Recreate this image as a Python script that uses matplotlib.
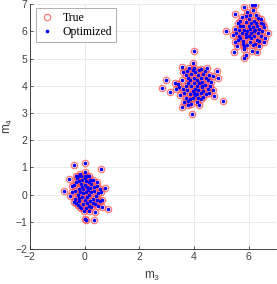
import matplotlib
matplotlib.use("Agg")
import matplotlib.pyplot as plt

# cluster around (0, 0)
c1_x = [0.01, -0.39, 0.59, -0.58, -0.76, -0.54, -0.47, 0.74, 0.86, 0.65, 0.39, 0.16, 0.06, 0.34, 0.03,
        -0.39, -0.25, -0.12, -0.33, -0.25, -0.12, 0.0, 0.1, 0.18,
        -0.3, -0.2, -0.1, 0.05, 0.15, 0.25, 0.35, 0.45, 0.55, 0.6, 0.5, 0.4, 0.3, 0.45, 0.55, 0.65, 0.2,
        0.1, 0.0, -0.1, -0.2, -0.3, -0.35, -0.25, -0.15, -0.05, 0.05, 0.15, 0.25, 0.35, 0.1, 0.0, -0.1,
        -0.2, -0.35, -0.4, -0.28, 0.02, 0.2, 0.3, 0.15, -0.05, -0.15, 0.05, 0.25, -0.45, 0.45, 0.3,
        -0.05, 0.08, -0.12, 0.2, 0.38, 0.5, -0.22, 0.12, -0.02, 0.02, -0.18]
c1_y = [1.16, 1.09, 0.96, 0.58, 0.13, -0.06, 0.33, 0.26, -0.53, -0.44, -0.63, -0.6, -0.94, -0.94, -0.9,
        -0.28, -0.38, -0.48, 0.68, 0.68, 0.7, 0.68, 0.68, 0.68,
        0.45, 0.5, 0.55, 0.52, 0.45, 0.4, 0.3, 0.32, 0.2, 0.1, 0.05, -0.05, -0.15, -0.2, -0.25, -0.2, -0.25,
        -0.3, -0.2, -0.1, -0.25, -0.3, -0.15, 0.0, 0.1, 0.2, 0.1, 0.0, 0.1, 0.15, 0.3, 0.35, 0.3,
        0.2, 0.15, 0.35, 0.6, 0.6, 0.55, -0.3, -0.4, -0.35, -0.45, -0.5, -0.45, 0.1, 0.45, 0.55,
        0.05, -0.08, 0.4, 0.25, -0.35, -0.4, -0.12, 0.18, -0.6, 0.82, 0.75]

# cluster around (4, 4)
c2_x = [4.01, 3.98, 3.55, 3.83, 3.99, 4.26, 4.48, 4.85, 4.87, 2.97, 2.85, 3.12, 3.34, 3.42, 3.49, 3.56,
        3.77, 3.80, 3.93, 4.72, 4.69, 5.08, 4.63,
        3.7, 3.8, 3.9, 4.05, 4.15, 4.25, 4.35, 4.45, 4.55, 4.6, 4.5, 4.4, 4.3, 4.2, 4.1, 4.0, 3.9, 3.8,
        3.7, 3.6, 3.65, 3.75, 3.85, 3.95, 4.05, 4.15, 4.25, 4.35, 4.45, 4.55, 4.05, 3.95, 4.15, 4.25,
        4.1, 4.2, 3.9, 3.7, 3.55, 3.6, 4.0, 4.3, 4.1, 3.85, 4.4, 4.7, 3.45, 3.3, 4.0, 4.35, 3.85, 3.65,
        4.5, 4.2, 3.95, 4.12, 4.28, 3.75]
c2_y = [5.30, 4.85, 4.69, 4.66, 4.66, 4.62, 4.65, 4.53, 4.29, 4.2, 3.93, 3.79, 3.89, 4.07, 3.67, 3.24,
        3.28, 3.44, 2.95, 3.61, 3.85, 3.46, 4.16,
        4.4, 4.3, 4.45, 4.5, 4.4, 4.3, 4.45, 4.3, 4.4, 4.0, 3.9, 4.05, 3.95, 4.1, 4.2, 4.1, 4.0, 4.1,
        4.0, 3.9, 3.75, 3.85, 3.7, 3.8, 3.9, 3.85, 3.75, 3.8, 3.7, 3.75, 3.65, 3.55, 3.55, 3.5,
        3.4, 3.3, 3.35, 3.55, 4.2, 4.5, 4.3, 4.15, 4.0, 4.2, 4.55, 4.35, 3.95, 4.1, 3.75, 3.6, 3.5, 3.4,
        4.2, 4.6, 4.6, 3.7, 4.0, 4.55]

# cluster around (6, 6)
c3_x = [5.82, 6.13, 6.22, 5.49, 5.91, 6.26, 6.44, 6.53, 5.18, 5.42, 5.49, 6.71, 5.46, 5.85, 5.91, 5.83,
        6.13, 6.32,
        5.6, 5.7, 5.8, 5.9, 6.0, 6.1, 6.2, 6.3, 6.4, 6.5, 6.45, 6.35, 6.25, 6.15, 6.05, 5.95, 5.85, 5.75,
        5.65, 5.55, 5.6, 5.7, 5.8, 5.9, 6.0, 6.1, 6.2, 6.3, 6.4, 6.05, 5.95, 6.15, 5.85, 6.25, 5.75,
        6.05, 6.35, 6.55, 6.6, 5.5, 5.65, 6.0, 6.2, 5.9, 6.1, 5.78, 6.45, 5.95, 6.15, 6.4, 5.58, 6.28,
        5.7, 6.55]
c3_y = [6.91, 6.97, 6.98, 6.64, 6.58, 6.60, 6.44, 6.29, 6.02, 5.87, 5.62, 5.93, 5.23, 5.34, 5.13, 5.01,
        5.28, 5.25,
        6.3, 6.4, 6.2, 6.35, 6.45, 6.3, 6.4, 6.2, 6.1, 6.0, 5.85, 5.95, 6.05, 6.15, 6.1, 6.0, 6.05, 5.95,
        5.85, 5.95, 5.7, 5.75, 5.65, 5.8, 5.85, 5.75, 5.85, 5.7, 5.65, 5.6, 5.5, 5.5, 5.45, 5.55, 6.55,
        6.6, 6.5, 6.15, 5.75, 6.1, 6.05, 6.2, 6.0, 5.9, 5.95, 5.55, 6.3, 6.7, 6.8, 5.45, 5.45, 6.32,
        6.2, 5.6]

true_x = c1_x + c2_x + c3_x
true_y = c1_y + c2_y + c3_y
# optimized values sit on top of the true ones
opt_x = list(true_x)
opt_y = list(true_y)

plt.rcParams['font.family'] = ['Liberation Sans', 'DejaVu Sans']
plt.rcParams['mathtext.fontset'] = 'custom'
plt.rcParams['mathtext.rm'] = 'Liberation Sans'
plt.rcParams['mathtext.it'] = 'Liberation Sans'

fig = plt.figure(figsize=(2.77, 2.84), dpi=100)
ax = fig.add_axes([0.108, 0.123, 0.888, 0.862])

ax.plot(true_x, true_y, 'o', color='none', markeredgecolor=(1, 0.3, 0.3, 0.75),
        markersize=4.6, markeredgewidth=0.9, label='True')
ax.plot(opt_x, opt_y, '.', color='#0000ff', markersize=3.2, label='Optimized')

ax.set_xlim(-2, 7)
ax.set_ylim(-2, 7)
ax.set_xticks([-2, 0, 2, 4, 6])
ax.set_yticks(range(-2, 8))
ax.grid(True, color='#e6e6e6', linewidth=0.6)
ax.set_axisbelow(True)
for side in ['top', 'right']:
    ax.spines[side].set_visible(False)
for side in ['left', 'bottom']:
    ax.spines[side].set_color('#262626')
    ax.spines[side].set_linewidth(0.6)
ax.tick_params(direction='in', length=2.5, width=0.6, colors='#404040', labelsize=7.5, pad=2)

# axis labels placed by hand, they sit right at the figure edge
fig.text(0.549, 0.025, 'm$_3$', fontsize=8.5, color='#404040', ha='center', va='center')
fig.text(0.03, 0.558, 'm$_4$', fontsize=8.5, color='#404040', ha='center', va='center',
         rotation=90)

leg = ax.legend(loc='upper left', bbox_to_anchor=(0.024, 0.985), fancybox=False,
                prop={'family': 'Liberation Serif', 'size': 8.5}, borderpad=0.35,
                handletextpad=0.7, borderaxespad=0, labelspacing=0.15, handlelength=1.2)
leg.get_frame().set_edgecolor('#8c8c8c')
leg.get_frame().set_linewidth(0.6)

fig.savefig('out.png', dpi=100)
